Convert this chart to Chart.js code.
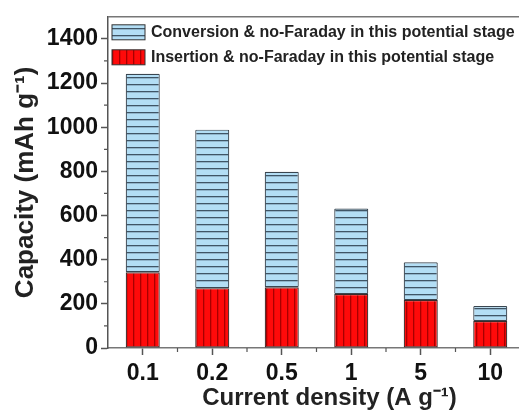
<html>
<head>
<meta charset="utf-8"/>
<title>Capacity vs current density</title>
<script src="https://cdn.jsdelivr.net/npm/chart.js"></script>
<style>
  html, body { margin: 0; padding: 0; background: #fff; overflow: hidden; }
  #wrap { width: 526px; height: 412px; }
</style>
</head>
<body>
<div id="wrap"><canvas id="capChart" width="526" height="412"></canvas></div>
<script>
// data
const densities = ['0.1', '0.2', '0.5', '1', '5', '10'];
const insertion = [343, 271, 275, 244, 217, 122];
const conversion = [899, 718, 523, 388, 171, 68];
const seriesLabels = [
  'Conversion & no-Faraday in this potential stage',
  'Insertion & no-Faraday in this potential stage'
];
const yTitle = 'Capacity (mAh g\u207B\u00B9)';
const xTitle = 'Current density (A g\u207B\u00B9)';

// hatch patterns
function makePattern(bg, line, horizontal) {
  const c = document.createElement('canvas');
  c.width = 7; c.height = 7;
  const g = c.getContext('2d');
  g.fillStyle = bg;
  g.fillRect(0, 0, 7, 7);
  g.fillStyle = line;
  if (horizontal) g.fillRect(0, 0, 7, 1.3);
  else g.fillRect(0, 0, 1.3, 7);
  return g.createPattern(c, 'repeat');
}
const bluePat = makePattern('#b3def5', '#3f5566', true);
const redPat = makePattern('#ff0a0a', '#a80000', false);

const font = 'Liberation Sans, Arial, sans-serif';

// frame, minor ticks, x title and the in-plot legend
const decor = {
  id: 'decor',
  afterDraw(chart) {
    const ctx = chart.ctx;
    const a = chart.chartArea;
    const x = chart.scales.x, y = chart.scales.y;
    ctx.save();
    ctx.strokeStyle = '#777';
    ctx.lineWidth = 1.5;
    ctx.beginPath();
    ctx.moveTo(a.left, a.top);
    ctx.lineTo(a.right, a.top);
    ctx.lineTo(a.right, a.bottom);
    ctx.stroke();

    // minor ticks
    ctx.strokeStyle = '#555';
    ctx.lineWidth = 1.2;
    ctx.beginPath();
    for (let v = 100; v < 1500; v += 200) {
      const py = y.getPixelForValue(v);
      ctx.moveTo(a.left, py);
      ctx.lineTo(a.left - 4, py);
    }
    for (let i = 0; i < densities.length - 1; i++) {
      const px = (x.getPixelForValue(i) + x.getPixelForValue(i + 1)) / 2;
      ctx.moveTo(px, a.bottom);
      ctx.lineTo(px, a.bottom + 4);
    }
    ctx.stroke();

    // x axis title (sits a bit right of centre in the original)
    ctx.fillStyle = '#222';
    ctx.font = 'bold 24px ' + font;
    ctx.textAlign = 'center';
    ctx.textBaseline = 'alphabetic';
    ctx.fillText(xTitle, (a.left + a.right) / 2 + 13, 405);

    // legend
    const pats = [bluePat, redPat];
    ctx.font = 'bold 16px ' + font;
    ctx.textAlign = 'left';
    ctx.textBaseline = 'middle';
    seriesLabels.forEach((lab, i) => {
      const top = a.top + 8 + i * 25;
      ctx.fillStyle = pats[i];
      ctx.fillRect(a.left + 4, top, 33, 15);
      ctx.strokeStyle = '#333';
      ctx.lineWidth = 1;
      ctx.strokeRect(a.left + 4, top, 33, 15);
      ctx.fillStyle = '#222';
      ctx.fillText(lab, a.left + 43, top + 8);
    });
    ctx.restore();
  }
};

new Chart(document.getElementById('capChart'), {
  type: 'bar',
  data: {
    labels: densities,
    datasets: [
      {
        label: seriesLabels[1],
        data: insertion,
        backgroundColor: redPat,
        borderColor: '#3a2a2a',
        borderWidth: 1.2,
        borderSkipped: false,
        barPercentage: 0.49,
        categoryPercentage: 1
      },
      {
        label: seriesLabels[0],
        data: conversion,
        backgroundColor: bluePat,
        borderColor: '#3a4650',
        borderWidth: 1.2,
        borderSkipped: false,
        borderRadius: 1,
        barPercentage: 0.49,
        categoryPercentage: 1
      }
    ]
  },
  options: {
    responsive: false,
    animation: false,
    layout: { padding: { top: 15, right: 1, left: 0, bottom: 0 } },
    plugins: { legend: { display: false }, tooltip: { enabled: false } },
    scales: {
      x: {
        stacked: true,
        offset: true,
        grid: { offset: false, drawOnChartArea: false, tickLength: 7, tickColor: '#555', tickWidth: 1.5 },
        border: { color: '#777', width: 1.5 },
        ticks: { color: '#111', font: { family: font, size: 23, weight: 'bold' }, padding: 5, maxRotation: 0 },
        afterFit(s) { s.height = 64; }
      },
      y: {
        stacked: true,
        min: 0,
        max: 1500,
        grid: { drawOnChartArea: false, tickLength: 7, tickColor: '#555', tickWidth: 1.5 },
        border: { color: '#555', width: 1.5 },
        ticks: {
          stepSize: 200, includeBounds: false, color: '#111',
          font: { family: font, size: 23, weight: 'bold' }, padding: 3,
          callback: v => String(v)
        },
        title: { display: true, text: yTitle, color: '#222', font: { family: font, size: 26, weight: 'bold' }, padding: { top: 10, bottom: 0 } },
        afterFit(s) { s.width = 108; }
      }
    }
  },
  plugins: [decor]
});
</script>
</body>
</html>
